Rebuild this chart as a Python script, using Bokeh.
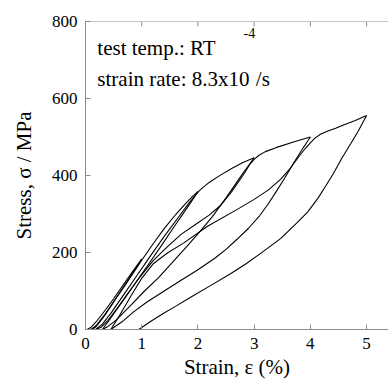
from bokeh.plotting import figure
from bokeh.models import LinearAxis, Range1d, FixedTicker, Label, Span
from bokeh.embed import file_html
from bokeh.resources import INLINE

# ---- data (strain %, stress MPa) ----
x_ticks = [0, 1, 2, 3, 4, 5]
y_ticks = [0, 200, 400, 600, 800]

load1_strain = [0.03, 0.1, 0.2, 0.35, 0.5, 0.7, 0.85, 1.0]
load1_stress = [0, 6, 22, 50, 80, 122, 153, 183]
unload1_strain = [1.0, 0.9, 0.75, 0.6, 0.45, 0.3, 0.18, 0.1]
unload1_stress = [183, 160, 127, 94, 60, 28, 6, 0]

load2_strain = [0.1, 0.2, 0.35, 0.5, 0.7, 0.9, 1.0, 1.2, 1.4, 1.6, 1.8, 1.9, 2.0]
load2_stress = [0, 12, 40, 72, 114, 158, 180, 222, 262, 298, 330, 345, 358]
unload2_strain = [2.0, 1.85, 1.6, 1.35, 1.1, 0.85, 0.6, 0.4, 0.28, 0.18]
unload2_stress = [358, 325, 272, 218, 165, 113, 62, 24, 6, 0]

load3_strain = [0.18, 0.3, 0.45, 0.65, 0.9, 1.15, 1.4, 1.65, 1.85, 1.97, 2.05, 2.2, 2.4, 2.6, 2.8, 3.0]
load3_stress = [0, 14, 42, 84, 137, 190, 242, 291, 330, 352, 364, 382, 401, 418, 434, 446]
unload3_strain = [3.0, 2.75, 2.5, 2.25, 2.05, 1.8, 1.57, 1.3, 1.05, 0.8, 0.55, 0.4, 0.3]
unload3_stress = [446, 395, 342, 292, 257, 215, 178, 135, 100, 62, 25, 8, 0]

load4_strain = [0.3, 0.45, 0.7, 0.95, 1.2, 1.45, 1.7, 1.95, 2.2, 2.4, 2.6, 2.8, 2.92, 3.0,
                3.08, 3.2, 3.4, 3.7, 4.0]
load4_stress = [0, 30, 82, 133, 178, 214, 247, 272, 297, 322, 358, 400, 428, 442,
                452, 462, 473, 487, 500]
unload4_strain = [4.0, 3.85, 3.7, 3.55, 3.4, 3.25, 3.1, 2.9, 2.7, 2.5, 2.3, 2.0, 1.7,
                  1.4, 1.1, 0.85, 0.65, 0.45]
unload4_stress = [500, 467, 432, 395, 360, 326, 296, 263, 235, 208, 185, 155, 128,
                  100, 72, 45, 20, 0]

load5_strain = [0.45, 0.6, 0.8, 1.0, 1.2, 1.45, 1.75, 2.17, 2.7, 3.0, 3.25, 3.47, 3.65,
                3.8, 3.92, 4.0, 4.08, 4.18, 4.3, 4.45, 4.6, 4.8, 5.0]
load5_stress = [0, 35, 85, 133, 170, 198, 225, 268, 312, 338, 362, 390, 420,
                450, 472, 485, 497, 507, 515, 523, 532, 543, 556]
unload5_strain = [5.0, 4.85, 4.72, 4.56, 4.41, 4.27, 4.13, 3.95, 3.77, 3.47, 3.11, 2.85,
                  2.58, 2.2, 1.87, 1.6, 1.39, 1.15, 0.95]
unload5_stress = [556, 515, 483, 445, 405, 372, 340, 305, 278, 236, 197, 170,
                  145, 112, 84, 60, 42, 20, 0]

curves = [
    (load1_strain, load1_stress), (unload1_strain, unload1_stress),
    (load2_strain, load2_stress), (unload2_strain, unload2_stress),
    (load3_strain, load3_stress), (unload3_strain, unload3_stress),
    (load4_strain, load4_stress), (unload4_strain, unload4_stress),
    (load5_strain, load5_stress), (unload5_strain, unload5_stress),
]

FONT = "Liberation Serif"
AX_COLOR = "#8c8c8c"
Y_MAX = 800
TOP_TICK_LEN = 13  # in stress units (~5 px)

p = figure(width=388, height=381, x_range=Range1d(0, 5.39), y_range=Range1d(0, Y_MAX),
           output_backend="svg", toolbar_location=None,
           x_axis_location=None, y_axis_location=None,
           min_border_left=85, min_border_right=0, min_border_top=21, min_border_bottom=52)
p.outline_line_color = None
p.xgrid.visible = False
p.ygrid.visible = False

for xs, ys in curves:
    p.line(xs, ys, line_color="black", line_width=1.1)

def style(ax):
    ax.axis_line_color = AX_COLOR
    ax.major_tick_line_color = AX_COLOR
    ax.minor_tick_line_color = None
    ax.major_tick_in = 5
    ax.major_tick_out = 0
    ax.major_label_text_font = FONT
    ax.major_label_text_font_size = "17px"
    ax.major_label_text_color = "black"
    ax.axis_label_text_font = FONT
    ax.axis_label_text_font_size = "21px"
    ax.axis_label_text_font_style = "normal"
    ax.axis_label_text_color = "black"

xb = LinearAxis(ticker=FixedTicker(ticks=x_ticks), axis_label="Strain, ε (%)")
style(xb)
xb.major_label_standoff = 8
xb.axis_label_standoff = 3
p.add_layout(xb, "below")

yl = LinearAxis(ticker=FixedTicker(ticks=y_ticks), axis_label="Stress, σ / MPa")
style(yl)
yl.major_label_standoff = 8
yl.axis_label_standoff = 13
p.add_layout(yl, "left")

# top frame line with inward ticks (no labels)
p.add_layout(Span(location=Y_MAX, dimension="width", line_color=AX_COLOR, line_width=1))
p.segment(x0=x_ticks[1:], y0=[Y_MAX] * (len(x_ticks) - 1),
          x1=x_ticks[1:], y1=[Y_MAX - TOP_TICK_LEN] * (len(x_ticks) - 1),
          line_color=AX_COLOR, line_width=1)

p.add_layout(Label(x=0.21, y=731, text="test temp.: RT", text_font=FONT,
                   text_font_size="21px", text_baseline="alphabetic", text_color="black"))
p.add_layout(Label(x=0.21, y=650, text="strain rate: 8.3x10", text_font=FONT,
                   text_font_size="21px", text_baseline="alphabetic", text_color="black"))
p.add_layout(Label(x=2.81, y=771, text="-4", text_font=FONT,
                   text_font_size="14px", text_baseline="alphabetic", text_color="black"))
p.add_layout(Label(x=3.03, y=650, text="/s", text_font=FONT,
                   text_font_size="21px", text_baseline="alphabetic", text_color="black"))

open("out.html", "w").write(file_html(p, INLINE))
